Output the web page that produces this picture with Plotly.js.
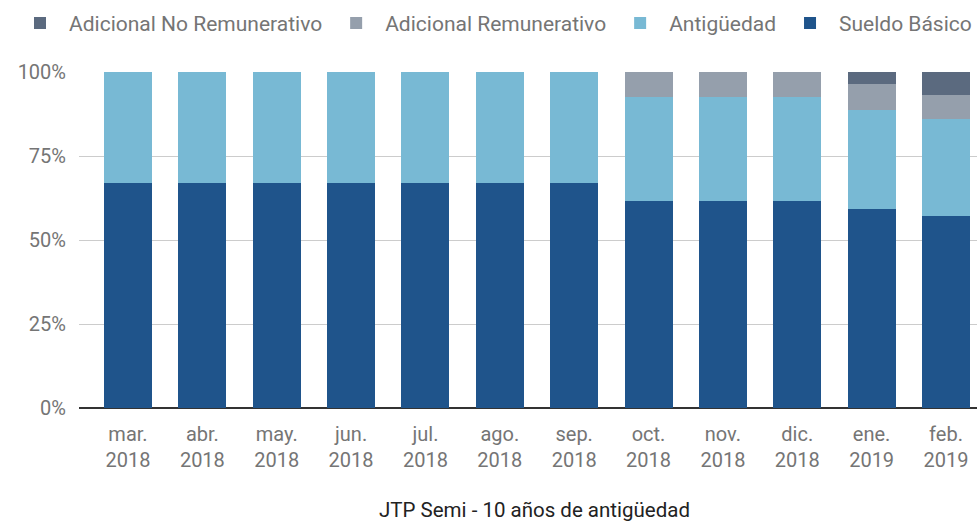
<!DOCTYPE html>
<html>
<head>
<meta charset="utf-8">
<script src="https://cdn.plot.ly/plotly-3.0.1.min.js"></script>
<style>html,body{margin:0;padding:0;background:#fff;}#chart{width:977px;height:524px;}</style>
</head>
<body>
<div id="chart"></div>
<script>
const categories = ["mar.<br>2018","abr.<br>2018","may.<br>2018","jun.<br>2018","jul.<br>2018","ago.<br>2018","sep.<br>2018","oct.<br>2018","nov.<br>2018","dic.<br>2018","ene.<br>2019","feb.<br>2019"];
const sueldoBasico = [67, 67, 67, 67, 67, 67, 67, 61.7, 61.7, 61.7, 59.1, 57.1];
const antiguedad = [33, 33, 33, 33, 33, 33, 33, 30.9, 30.9, 30.9, 29.5, 28.8];
const adicionalRemunerativo = [0, 0, 0, 0, 0, 0, 0, 7.4, 7.4, 7.4, 7.7, 7.3];
const adicionalNoRemunerativo = [0, 0, 0, 0, 0, 0, 0, 0, 0, 0, 3.7, 6.8];
const yTicks = [0, 25, 50, 75, 100];
const yTickLabels = ["0%", "25%", "50%", "75%", "100%"];
const chartTitle = "JTP Semi - 10 años de antigüedad";

const mk = (name, y, color) => ({
  type: 'bar', name: name, x: categories, y: y,
  marker: {color: color, line: {width: 0}},
  hoverinfo: 'name+y'
});
const data = [
  mk('Sueldo Básico', sueldoBasico, '#1f548b'),
  mk('Antigüedad', antiguedad, '#78b9d4'),
  mk('Adicional Remunerativo', adicionalRemunerativo, '#959fac'),
  mk('Adicional No Remunerativo', adicionalNoRemunerativo, '#5b6a7f')
];
const layout = {
  width: 977, height: 524,
  margin: {l: 79, r: 0, t: 72, b: 116},
  barmode: 'stack',
  bargap: 0.355,
  paper_bgcolor: '#fff', plot_bgcolor: '#fff',
  font: {family: 'Roboto, sans-serif', size: 20, color: '#757575'},
  showlegend: true,
  legend: {orientation: 'h', traceorder: 'reversed', x: -0.0687, xanchor: 'left', y: 1.145, yanchor: 'middle',
           font: {size: 21, color: '#757575'}, itemgap: 8, itemwidth: 48},
  xaxis: {type: 'category', range: [-0.659, 11.417], showgrid: false, zeroline: false, showline: false,
          ticks: '', ticklabelstandoff: 12, tickfont: {size: 20, color: '#757575'}, fixedrange: true},
  yaxis: {range: [0, 100], tickvals: yTicks, ticktext: yTickLabels, showgrid: true, gridcolor: '#cccccc', gridwidth: 1,
          zeroline: true, zerolinecolor: '#333333', zerolinewidth: 2, showline: false, ticks: '',
          ticklabelstandoff: 12, tickfont: {size: 20, color: '#757575'}, fixedrange: true},
  annotations: [{text: chartTitle, xref: 'paper', yref: 'paper', x: 0.507, y: -0.303, xanchor: 'center', yanchor: 'middle',
                 showarrow: false, font: {size: 20.5, color: '#222222'}}]
};
Plotly.newPlot('chart', data, layout, {displayModeBar: false, staticPlot: true});
</script>
</body>
</html>
